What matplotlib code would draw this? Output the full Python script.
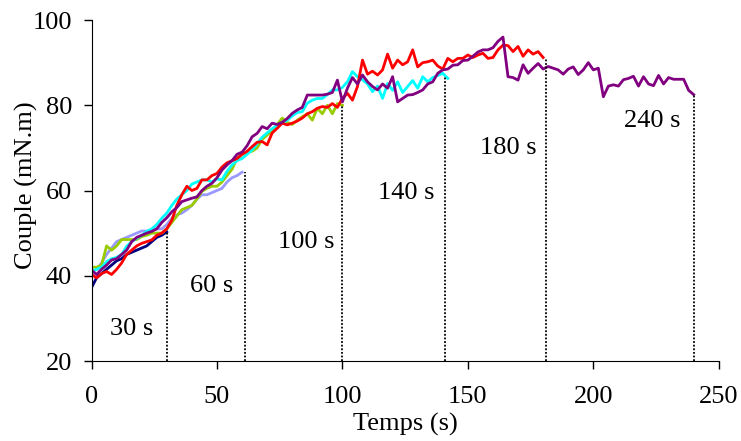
import matplotlib
matplotlib.use('Agg')
import matplotlib.pyplot as plt
import numpy as np

plt.rcParams['font.family'] = ['Liberation Serif', 'DejaVu Serif']

# time stamps (s), one reading every 2 s
t_30 = np.arange(0, 31, 2)
t_60 = np.arange(0, 61, 2)
t_100 = np.arange(0, 101, 2)
t_140 = np.arange(0, 143, 2)
t_180 = np.arange(0, 181, 2)
t_240 = np.arange(0, 241, 2)

# couple (mN.m) for each test duration
c_30 = [37.2, 39.5, 40.5, 41.5, 42.5, 43.5, 44, 45, 45.5, 46, 46.5, 47, 48, 49, 49.5, 50.3]

c_60 = [41, 41.5, 43, 45, 46.5, 48, 48.5, 49, 49.5, 50, 50.5, 50.5, 50.7, 51, 51, 52,
        53.5, 54.3, 54.7, 55.5, 56.5, 58, 59, 59, 59.5, 60, 60.5, 62, 63, 63.5, 64.3]

c_100 = [42, 42, 42.5, 47, 46, 47, 48.5, 48.5, 48.5, 48.5, 49.2, 49.5, 50, 50, 50, 51,
         52.5, 54, 55.5, 56, 56.5, 58, 59.8, 60.5, 61, 61, 62, 63.5, 65, 67.5, 68.5,
         69, 69.2, 70, 72, 73, 74, 75.5, 77, 76, 75.5, 76.5, 77.3, 78, 76.5, 79.3, 78,
         80, 78, 80.4, 80]

c_140 = [41, 41.5, 42, 43.3, 44, 44.3, 45, 46.9, 48, 48.8, 49.5, 50.4, 51, 52, 53.5,
         54.7, 56.5, 58, 59, 60, 61.5, 62, 62.5, 62.5, 62, 62.7, 62.5, 64.5, 66, 67,
         67.5, 68.5, 69.5, 71, 72.5, 73.5, 74.5, 75.3, 75.8, 76.5, 77.5, 78.3, 78.5,
         80.5, 81.2, 81.6, 81.6, 82.5, 83.6, 83.6, 84.2, 85.5, 87.9, 86.7, 86, 85,
         83.2, 84.5, 81.6, 85.1, 83.5, 85.5, 83, 84.4, 85.8, 84, 86.7, 85.5, 86.5, 87,
         87.5, 86.3]

c_180 = [40.3, 39.5, 40.5, 41, 40.3, 41.5, 43, 45, 46, 47, 47.6, 48, 48.4, 49.5, 50,
         51, 53, 56.5, 59, 61, 60, 60.5, 62.5, 62.5, 63.5, 64, 65.5, 66.5, 67, 67.5,
         68.5, 69.2, 70.3, 71.3, 71.5, 70.7, 73.5, 74.6, 75.8, 75.4, 75.8, 76.3, 77,
         78, 78.5, 79.3, 79.7, 79.5, 80.4, 79.5, 81.6, 82.8, 81.2, 84.4, 90.6, 87.3,
         88, 87.1, 88.3, 92, 88.7, 90.6, 89.5, 90.2, 93, 89, 90, 90.2, 90.6, 89.2,
         88.5, 91, 90.2, 91, 91, 91.8, 91.2, 91.8, 92.2, 91, 91.2, 93, 94.1, 94, 92.6,
         93.8, 91.5, 93, 92, 92.6, 91.2]

c_240 = [41.3, 40.3, 41.5, 42.5, 43.7, 44, 45, 46, 48, 49, 49.5, 50, 50.4, 51, 52.5,
         53.6, 55, 56, 57.4, 57.8, 58.2, 58.5, 60, 61, 61.7, 63, 64.8, 66, 67, 68.5,
         69, 70.5, 72.6, 73.4, 75, 74.5, 75.8, 75.5, 76, 76.9, 78.1, 78.9, 79.5, 82.4,
         82.4, 82.4, 82.4, 82.6, 83, 85.9, 80.8, 84, 86.5, 85, 87.1, 85.5, 84.4, 83.6,
         85, 84, 86.7, 80.8, 81.6, 82.4, 82.5, 83, 83.6, 85, 85.5, 87.5, 88.3, 88.5,
         89.4, 89.5, 90.5, 90.6, 91.5, 92.5, 93, 93, 93.5, 95, 96, 86.7, 86.5, 85.9,
         89.5, 87.5, 88.7, 89.8, 88.5, 89.1, 88.7, 88.3, 87.3, 88.5, 89, 87.2, 88.3,
         90, 88.3, 88.7, 82, 84.5, 84.8, 84.5, 86, 86.3, 86.8, 84.5, 86.7, 85, 84.6,
         87, 85, 86.5, 86.1, 86.1, 86.1, 83.5, 82.5]

# end of each test: time, couple reached, label text and where it sits
end_t = [30, 61, 100, 141, 181, 240]
end_c = [50.3, 64.3, 80, 86.8, 91.2, 82.5]
labels = ['30 s', '60 s', '100 s', '140 s', '180 s', '240 s']
label_x = [16.1, 47.7, 85.7, 125.5, 166.1, 223.6]
label_y = [26.1, 36.3, 46.4, 58.0, 68.6, 75.0]

fig = plt.figure(figsize=(7.41, 4.41), dpi=100)
ax = fig.add_axes([0.1235, 0.1814, 0.8465, 0.7732])

ax.plot(t_30, c_30, color='#000080', lw=2)
ax.plot(t_60, c_60, color='#9999FF', lw=2)
ax.plot(t_100, c_100, color='#99CC00', lw=2)
ax.plot(t_140, c_140, color='#00FFFF', lw=2)
ax.plot(t_180, c_180, color='#FF0000', lw=2)
ax.plot(t_240, c_240, color='#800080', lw=2)

for xe, ye in zip(end_t, end_c):
    ax.plot([xe, xe], [20, ye], color='black', ls=(0, (1, 1)), lw=1.3)

for lx, ly, s in zip(label_x, label_y, labels):
    ax.text(lx, ly, s, fontsize=19, ha='center', va='baseline')

ax.set_xlim(0, 250)
ax.set_ylim(20, 100)
ax.set_xticks([0, 50, 100, 150, 200, 250])
ax.set_yticks([20, 40, 60, 80, 100])
ax.tick_params(direction='out', length=6, width=1, labelsize=19)
ax.tick_params(axis='x', pad=12)
ax.tick_params(axis='y', pad=8)
ax.spines['top'].set_visible(False)
ax.spines['right'].set_visible(False)

ax.set_xlabel('Temps (s)', fontsize=19)
ax.set_ylabel('Couple (mN.m)', fontsize=19)
ax.xaxis.set_label_coords(0.5, -0.152)
ax.yaxis.set_label_coords(-0.085, 0.515)

fig.savefig('out.png', dpi=100)
